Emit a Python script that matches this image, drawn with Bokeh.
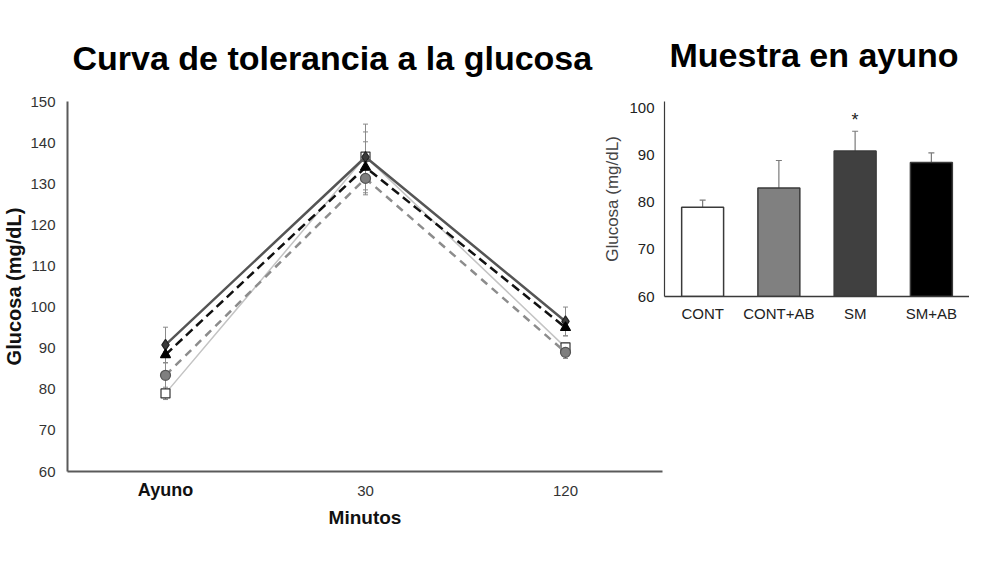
from bokeh.plotting import figure
from bokeh.models import (ColumnDataSource, Whisker, TeeHead, Legend, LegendItem,
                          LinearAxis, FixedTicker, Range1d, FactorRange)
from bokeh.layouts import row
from bokeh.embed import file_html
from bokeh.resources import INLINE
from bokeh.core.properties import value

# ---------------- data ----------------
times = ["Ayuno", "30", "120"]
cont = [79.0, 136.6, 90.2]
cont_err = [1.5, 6.0, 1.0]
contab = [83.4, 131.3, 89.0]
contab_err = [5.8, 4.0, 1.5]
sm = [90.8, 136.5, 96.5]
sm_err = [4.3, 8.0, 3.5]
smab = [88.4, 134.0, 95.0]
smab_err = [2.0, 6.2, 2.0]

groups = ["CONT", "CONT+AB", "SM", "SM+AB"]
fasting = [78.9, 83.0, 90.8, 88.4]
fasting_err = [1.5, 5.8, 4.2, 2.0]
signif = ["", "", "*", ""]

left_ticks = [60, 70, 80, 90, 100, 110, 120, 130, 140, 150]
right_ticks = [60, 70, 80, 90, 100]

FONT = "Liberation Sans"

# category positions for the time axis (index of each category)
xpos = list(range(len(times)))

# ---------------- left: tolerance curve ----------------
p1 = figure(x_range=Range1d(-0.49, len(times) - 0.515), y_range=Range1d(60, 150),
            frame_width=595, frame_height=370,
            min_border_left=65, min_border_right=5, min_border_top=93, min_border_bottom=86,
            output_backend="svg", toolbar_location=None)
p1.title.text = "Curva de tolerancia a la glucosa"
p1.title.text_font = FONT
p1.title.text_font_size = "34px"
p1.title.text_font_style = "bold"
p1.title.text_color = "#000000"
p1.title.align = "left"
p1.title.offset = 5
p1.title.standoff = 50
p1.grid.visible = False
p1.outline_line_color = None

styles = [
    ("CONT", cont, cont_err, "#c4c4c4", 1.5, "solid", "square", "white", "#333333", 9),
    ("CONT+AB", contab, contab_err, "#8c8c8c", 2.5, "8 6", "circle", "#7f7f7f", "#555555", 10),
    ("SM", sm, sm_err, "#555555", 2.5, "solid", "diamond", "#3a3a3a", "#222222", 11),
    ("SM+AB", smab, smab_err, "#111111", 2.5, "9 5", "triangle", "#000000", "#000000", 10),
]

items = []
for name, vals, errs, lc, lw, dash, marker, fc, mlc, size in styles:
    src = ColumnDataSource(dict(x=xpos, y=vals,
                                lo=[v - e for v, e in zip(vals, errs)],
                                hi=[v + e for v, e in zip(vals, errs)]))
    w = Whisker(base="x", lower="lo", upper="hi", source=src,
                line_color="#8a8a8a", line_width=1,
                upper_head=TeeHead(size=5, line_color="#8a8a8a", line_width=1),
                lower_head=TeeHead(size=5, line_color="#8a8a8a", line_width=1))
    p1.add_layout(w)
    rl = p1.line("x", "y", source=src, line_color=lc, line_width=lw, line_dash=dash)
    rm = p1.scatter("x", "y", source=src, marker=marker, size=size,
                    fill_color=fc, line_color=mlc, line_width=1.2)
    items.append(LegendItem(label=name, renderers=[rl, rm]))

# axis A (next to the frame): plain numeric category labels
xa = p1.xaxis[0]
xa.ticker = FixedTicker(ticks=xpos)
xa.major_label_overrides = {i: ("" if i == 0 else t) for i, t in zip(xpos, times)}
xa.axis_line_color = "#5a5a5a"
xa.axis_line_width = 2
xa.major_tick_line_color = None
xa.minor_tick_line_color = None
xa.major_tick_out = 0
xa.major_tick_in = 0
xa.major_label_text_font = FONT
xa.major_label_text_font_size = "15px"
xa.major_label_text_color = "#333333"
xa.major_label_standoff = 14

# axis B: bold first category ("Ayuno") on the same line, plus the axis title
xb = LinearAxis(ticker=FixedTicker(ticks=xpos))
xb.major_label_overrides = {i: (t if i == 0 else "") for i, t in zip(xpos, times)}
xb.axis_line_color = None
xb.major_tick_line_color = None
xb.minor_tick_line_color = None
xb.major_tick_out = 0
xb.major_tick_in = 0
xb.major_label_text_font = FONT
xb.major_label_text_font_size = "18px"
xb.major_label_text_font_style = "bold"
xb.major_label_text_color = "#111111"
xb.major_label_standoff = -19
xb.axis_label = "Minutos"
xb.axis_label_text_font = FONT
xb.axis_label_text_font_size = "19px"
xb.axis_label_text_font_style = "bold"
xb.axis_label_text_color = "#111111"
xb.axis_label_standoff = 4
p1.add_layout(xb, "below")

legend = Legend(items=items, orientation="horizontal", location=(77, 18),
                border_line_alpha=0, background_fill_alpha=0,
                label_text_font=FONT, label_text_font_size="16px", label_text_color="#222222",
                glyph_width=28, glyph_height=14, spacing=20, label_standoff=2,
                padding=0, margin=0)
p1.add_layout(legend, "below")

ya = p1.yaxis[0]
ya.ticker = FixedTicker(ticks=left_ticks)
ya.axis_label = "Glucosa (mg/dL)"
ya.axis_label_text_font = FONT
ya.axis_label_text_font_size = "20px"
ya.axis_label_text_font_style = "bold"
ya.axis_label_text_color = "#111111"
ya.axis_label_standoff = 2
ya.axis_line_color = "#5a5a5a"
ya.axis_line_width = 2
ya.major_tick_line_color = None
ya.minor_tick_line_color = None
ya.major_tick_out = 0
ya.major_tick_in = 0
ya.major_label_text_font = FONT
ya.major_label_text_font_size = "15px"
ya.major_label_text_color = "#333333"
ya.major_label_standoff = 12

# ---------------- right: fasting sample ----------------
p2 = figure(x_range=FactorRange(*groups), y_range=Range1d(60, 101.3),
            frame_width=305, frame_height=195,
            min_border_left=65, min_border_right=0, min_border_top=101, min_border_bottom=34,
            output_backend="svg", toolbar_location=None)
p2.background_fill_alpha = 0
p2.border_fill_alpha = 0
p2.title.text = "Muestra en ayuno"
p2.title.text_font = FONT
p2.title.text_font_size = "34px"
p2.title.text_font_style = "bold"
p2.title.text_color = "#000000"
p2.title.align = "left"
p2.title.offset = 5
p2.title.standoff = 56
p2.grid.visible = False
p2.outline_line_color = None

bar_colors = ["#ffffff", "#808080", "#404040", "#000000"]
bsrc = ColumnDataSource(dict(x=groups, top=fasting, color=bar_colors,
                             hi=[v + e for v, e in zip(fasting, fasting_err)],
                             sig=signif))
p2.add_layout(Whisker(base="x", lower="top", upper="hi", source=bsrc,
                      line_color="#7a7a7a", line_width=1.2,
                      upper_head=TeeHead(size=6, line_color="#7a7a7a", line_width=1.2),
                      lower_head=None))
p2.vbar(x="x", top="top", bottom=0, width=0.55, source=bsrc,
        fill_color="color", line_color="#3a3a3a", line_width=1.5)
p2.text(x="x", y="hi", text="sig", source=bsrc, text_align="center",
        text_baseline="bottom", y_offset=-1,
        text_font=value(FONT), text_font_size="18px", text_color="#222222")

xa2 = p2.xaxis[0]
xa2.axis_line_color = "#3a3a3a"
xa2.axis_line_width = 1.5
xa2.major_tick_line_color = None
xa2.minor_tick_line_color = None
xa2.major_tick_out = 0
xa2.major_tick_in = 0
xa2.major_label_text_font = FONT
xa2.major_label_text_font_size = "15px"
xa2.major_label_text_color = "#222222"
xa2.major_label_standoff = 8

ya2 = p2.yaxis[0]
ya2.ticker = FixedTicker(ticks=right_ticks)
ya2.axis_label = "Glucosa (mg/dL)"
ya2.axis_label_text_font = FONT
ya2.axis_label_text_font_size = "17px"
ya2.axis_label_text_font_style = "normal"
ya2.axis_label_text_color = "#444444"
ya2.axis_label_standoff = 4
ya2.axis_line_color = "#3a3a3a"
ya2.axis_line_width = 1.2
ya2.major_tick_line_color = None
ya2.minor_tick_line_color = None
ya2.major_tick_out = 0
ya2.major_tick_in = 0
ya2.major_label_text_font = FONT
ya2.major_label_text_font_size = "15px"
ya2.major_label_text_color = "#222222"
ya2.major_label_standoff = 10

p1.margin = 0
p2.margin = (0, 0, 0, -68)

layout = row(p1, p2)
layout.margin = 0

open("out.html", "w").write(file_html(layout, INLINE))
